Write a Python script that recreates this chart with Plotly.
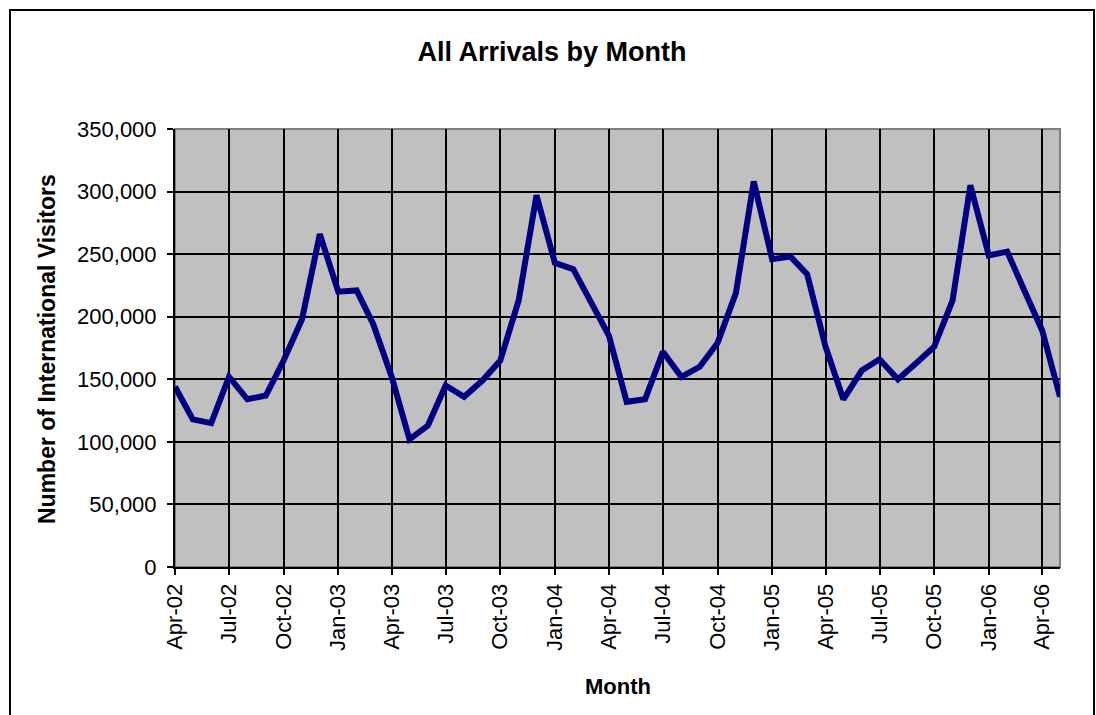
import plotly.graph_objects as go
import pandas as pd

# ---- data ----
months = pd.date_range("2002-04-01", "2006-05-01", freq="MS")
arrivals = [
    144000, 118000, 115000, 152000, 134000, 137000, 165000, 198000, 266000,
    220000, 221000, 194000, 152000, 102000, 113000, 145000,
    136000, 149000, 165000, 213000, 297000, 243000, 238000, 212000, 185000,
    132000, 134000, 172000, 152000, 160000, 179000, 219000, 308000,
    246000, 248000, 234000, 176000, 134000, 157000, 166000, 150000, 163000,
    176000, 213000, 305000, 249000, 252000, 222000, 189000, 136000,
]
y_ticks = [0, 50000, 100000, 150000, 200000, 250000, 300000, 350000]
y_tick_labels = ["0", "50,000", "100,000", "150,000", "200,000", "250,000", "300,000", "350,000"]

title_text = "All Arrivals by Month"
x_title = "Month"
y_title = "Number of International Visitors"

# ---- layout geometry ----
W, H = 1096, 715
L, R, T, B = 175, 1060, 129, 567
pw, ph = R - L, B - T

def px(x):
    return (x - L) / pw

def py(y):
    return (B - y) / ph

fig = go.Figure()
fig.add_trace(go.Scatter(
    x=months, y=arrivals, mode="lines",
    line=dict(color="#000080", width=6),
    hoverinfo="skip", showlegend=False,
))

font_family = "Arial, Liberation Sans, sans-serif"

fig.update_layout(
    width=W, height=H,
    margin=dict(l=L, r=W - R, t=T, b=H - B, pad=0),
    paper_bgcolor="white",
    plot_bgcolor="#C0C0C0",
    font=dict(family=font_family, color="black"),
    showlegend=False,
    title=dict(
        text="<b>" + title_text + "</b>",
        x=552 / W, xref="container", xanchor="center",
        y=1 - 52 / H, yref="container", yanchor="middle",
        font=dict(size=27, family=font_family, color="black"),
    ),
    xaxis=dict(
        type="date",
        range=[months[0], months[-1]],
        tick0="2002-04-01", dtick="M3",
        tickformat="%b-%y",
        tickangle=-90,
        tickfont=dict(size=22),
        ticks="outside", ticklen=6, tickwidth=1.5, tickcolor="black",
        showgrid=True, gridcolor="black", gridwidth=1.5,
        showline=True, linecolor="black", linewidth=2,
        zeroline=False,
        fixedrange=True,
    ),
    yaxis=dict(
        range=[0, 350000],
        tickvals=y_ticks, ticktext=y_tick_labels,
        tickfont=dict(size=22),
        ticks="outside", ticklen=6, tickwidth=1.5, tickcolor="black",
        ticklabelstandoff=6,
        showgrid=True, gridcolor="black", gridwidth=1.5,
        showline=True, linecolor="black", linewidth=2,
        zeroline=False,
        fixedrange=True,
    ),
    shapes=[
        dict(type="rect", xref="paper", yref="paper", x0=0, x1=1, y0=0, y1=1,
             line=dict(color="#808080", width=2), layer="below"),
        dict(type="rect", xref="paper", yref="paper",
             x0=px(10), x1=px(1094), y0=py(720), y1=py(10),
             line=dict(color="black", width=2), layer="above"),
    ],
    annotations=[
        dict(text="<b>" + y_title + "</b>", xref="paper", yref="paper",
             x=px(47), y=py(349), textangle=-90, showarrow=False,
             xanchor="center", yanchor="middle",
             font=dict(size=23, family=font_family, color="black")),
        dict(text="<b>" + x_title + "</b>", xref="paper", yref="paper",
             x=px(618), y=py(686), showarrow=False,
             xanchor="center", yanchor="middle",
             font=dict(size=22, family=font_family, color="black")),
    ],
)

fig.write_html("out.html")
